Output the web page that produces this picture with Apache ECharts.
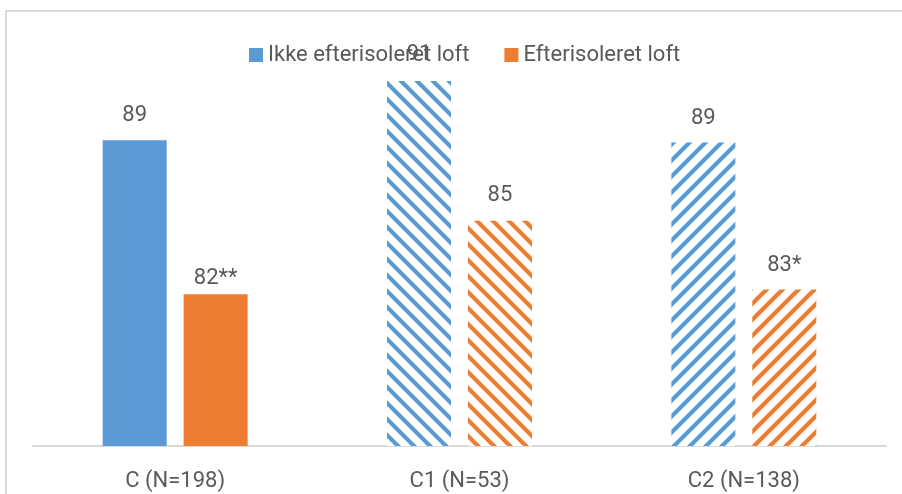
<!DOCTYPE html>
<html>
<head>
<meta charset="utf-8">
<script src="https://cdn.jsdelivr.net/npm/echarts@6/dist/echarts.min.js"></script>
<style>
html,body{margin:0;padding:0;background:#fff;}
#chart{width:902px;height:494px;}
</style>
</head>
<body>
<div id="chart"></div>
<script>
// Data
const categories = ['C (N=198)', 'C1 (N=53)', 'C2 (N=138)'];
const seriesNames = ['Ikke efterisoleret loft', 'Efterisoleret loft'];
const valuesIkke = [88.9, 91.4, 88.8];
const valuesEfter = [82.4, 85.5, 82.6];
const labelsIkke = ['89', '91', '89'];
const labelsEfter = ['82**', '85', '83*'];
// fill style per category: solid, downward diagonal, upward diagonal
const fillKinds = ['solid', 'down', 'up'];

const BLUE = '#5B9BD5';
const ORANGE = '#ED7D31';
const TEXT = '#595959';
const FONT = 'Roboto';

function stripePattern(color, dir) {
  const s = 16;
  const c = document.createElement('canvas');
  c.width = s; c.height = s;
  const g = c.getContext('2d');
  g.fillStyle = '#fff';
  g.fillRect(0, 0, s, s);
  g.strokeStyle = color;
  g.lineWidth = 4.2;
  g.lineCap = 'square';
  for (let k = -1; k <= 1; k++) {
    g.beginPath();
    if (dir === 'down') {
      g.moveTo(k * s - 2, -2);
      g.lineTo(k * s + s + 2, s + 2);
    } else {
      g.moveTo(k * s - 2, s + 2);
      g.lineTo(k * s + s + 2, -2);
    }
    g.stroke();
  }
  return { image: c, repeat: 'repeat' };
}

function buildData(values, labels, color, distances) {
  return values.map((v, i) => {
    const kind = fillKinds[i];
    return {
      value: v,
      itemStyle: { color: kind === 'solid' ? color : stripePattern(color, kind) },
      label: { formatter: labels[i], distance: distances[i] }
    };
  });
}

const chart = echarts.init(document.getElementById('chart'), null, { renderer: 'canvas' });
const option = {
  backgroundColor: '#fff',
  animation: false,
  graphic: [{
    type: 'rect',
    shape: { x: 6, y: 11, width: 2000, height: 2000 },
    style: { fill: null, stroke: '#d9d9d9', lineWidth: 2 },
    silent: true,
    z: -1
  }],
  legend: {
    left: 244,
    top: 39,
    itemWidth: 14,
    itemHeight: 14,
    itemGap: 35,
    icon: 'rect',
    textStyle: { fontFamily: FONT, fontSize: 22, color: TEXT },
    data: [
      { name: seriesNames[0], itemStyle: { color: BLUE } },
      { name: seriesNames[1], itemStyle: { color: ORANGE } }
    ]
  },
  grid: { left: 33, right: 16, top: 43, bottom: 48, containLabel: false },
  xAxis: {
    type: 'category',
    data: categories,
    axisLine: { show: true, lineStyle: { color: '#d9d9d9', width: 2 } },
    axisTick: { show: false },
    axisLabel: { fontFamily: FONT, fontSize: 22, color: TEXT, margin: 24 }
  },
  yAxis: {
    type: 'value',
    min: 76,
    max: 93,
    show: false,
    splitLine: { show: false }
  },
  series: [
    {
      name: seriesNames[0],
      type: 'bar',
      barWidth: 64,
      barGap: '26.5%',
      itemStyle: { color: BLUE },
      label: { show: true, position: 'top', fontFamily: FONT, fontSize: 22, color: TEXT },
      data: buildData(valuesIkke, labelsIkke, BLUE, [14, 15, 13])
    },
    {
      name: seriesNames[1],
      type: 'bar',
      barWidth: 64,
      barGap: '26.5%',
      itemStyle: { color: ORANGE },
      label: { show: true, position: 'top', fontFamily: FONT, fontSize: 22, color: TEXT },
      data: buildData(valuesEfter, labelsEfter, ORANGE, [5, 14, 13])
    }
  ]
};
chart.setOption(option);
</script>
</body>
</html>
